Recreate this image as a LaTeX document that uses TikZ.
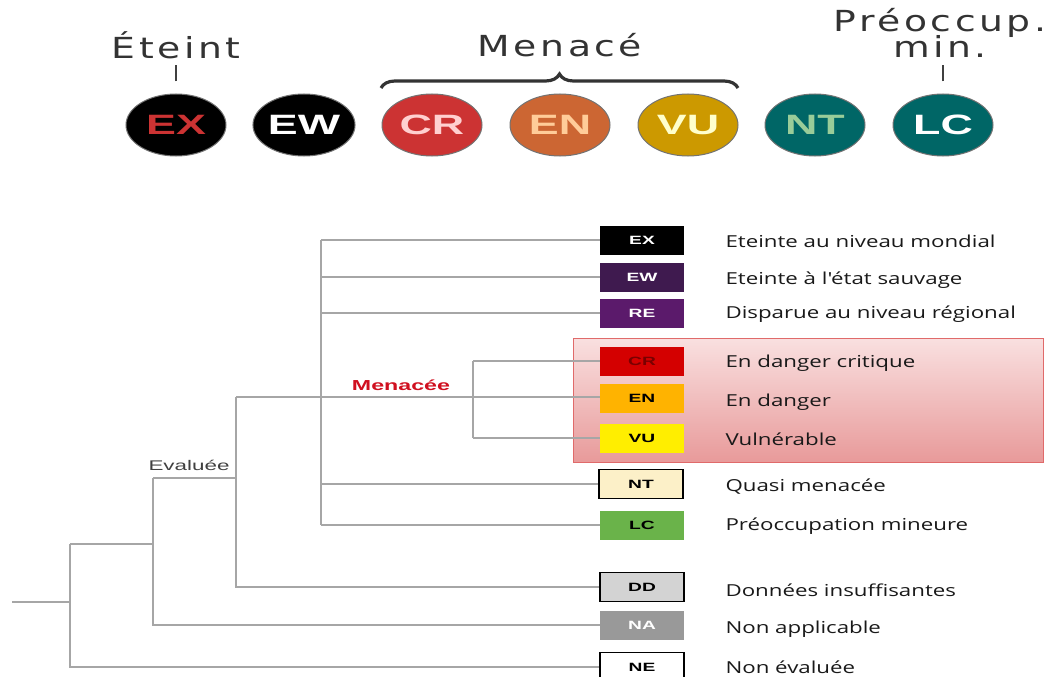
\documentclass[tikz,border=0pt]{standalone}
\usepackage{fontspec}
\usepackage{tikz}
\usetikzlibrary{shapes.geometric, decorations.pathreplacing}

\newfontfamily\headfam[FakeStretch=1.3,LetterSpace=12]{DejaVu Sans}
\newfontfamily\arialx[FakeStretch=1.6]{Liberation Sans}
\newfontfamily\labelfam[FakeStretch=1.35]{Open Sans}

\definecolor{exred}{HTML}{CC3333}
\definecolor{crfill}{HTML}{CC3333}
\definecolor{crtext}{HTML}{FFD0D0}
\definecolor{enfill}{HTML}{CC6633}
\definecolor{entext}{HTML}{FFCC99}
\definecolor{vufill}{HTML}{CC9900}
\definecolor{vutext}{HTML}{FFFFCC}
\definecolor{ntfill}{HTML}{006666}
\definecolor{nttext}{HTML}{99CC99}
\definecolor{ewbox}{HTML}{3F1A4F}
\definecolor{rebox}{HTML}{5B1A6B}
\definecolor{crbox}{HTML}{D40000}
\definecolor{crcode}{HTML}{7A0000}
\definecolor{enbox}{HTML}{FFB300}
\definecolor{vubox}{HTML}{FFEE00}
\definecolor{ntbox}{HTML}{FCF0C8}
\definecolor{lcbox}{HTML}{6AB34A}
\definecolor{ddbox}{HTML}{D3D3D3}
\definecolor{nabox}{HTML}{999999}
\definecolor{zonetop}{HTML}{F9E0E0}
\definecolor{zonebot}{HTML}{E89A9A}
\definecolor{zoneline}{HTML}{E06A6A}
\definecolor{menred}{HTML}{D01020}

\tikzset{
    badge/.style={ellipse, draw=black!55, line width=1pt, minimum width=100pt,
        minimum height=62pt, inner sep=0pt, font=\arialx\bfseries\fontsize{28}{28}\selectfont},
    heading/.style={font=\headfam\fontsize{29}{29}\selectfont, text=black!80, align=center},
    tick/.style={draw=black!75, line width=2pt},
    catbox/.style={rectangle, minimum width=84pt, minimum height=29pt, inner sep=0pt,
        font=\arialx\bfseries\fontsize{12}{12}\selectfont},
    framed/.style={draw=black, line width=1.3pt},
    catlabel/.style={anchor=west, font=\labelfam\fontsize{16.5}{17}\selectfont, text=black!90},
    branch/.style={draw=black!35, line width=1.3pt}
}

\begin{document}
\begin{tikzpicture}[x=1pt, y=-1pt]
    \useasboundingbox (0,0) rectangle (1045,677);

    % top row of badges
    \node[badge, fill=black, text=exred]   (bEX) at (176,125) {EX};
    \node[badge, fill=black, text=white]   (bEW) at (304,125) {EW};
    \node[badge, fill=crfill, text=crtext] (bCR) at (432,125) {CR};
    \node[badge, fill=enfill, text=entext] (bEN) at (560,125) {EN};
    \node[badge, fill=vufill, text=vutext] (bVU) at (688,125) {VU};
    \node[badge, fill=ntfill, text=nttext] (bNT) at (815,125) {NT};
    \node[badge, fill=ntfill, text=white]  (bLC) at (943,125) {LC};

    \node[heading] (hExt) at (176,45) {Éteint};
    \node[heading] (hThr) at (560,45) {Menacé};
    \node[heading] (hLc)  at (940,33) {Préoccup.\\[-3pt]min.};
    \draw[tick] ([yshift=12pt]bEX.north) -- ++(0,-16);
    \draw[tick] ([yshift=12pt]bLC.north) -- ++(0,-16);
    \draw[black!80, line width=3.2pt, decorate, decoration={brace, amplitude=14pt}]
        (381,88) -- (738,88);

    % threatened zone
    \shade[top color=zonetop, bottom color=zonebot] (573,338) rectangle (1043,462);
    \draw[zoneline, line width=1pt] (573,338) rectangle (1043,462);

    % category boxes
    \node[catbox, fill=black, text=white]        (EX) at (642,240) {EX};
    \node[catbox, fill=ewbox, text=white!85]     (EW) at (642,277) {EW};
    \node[catbox, fill=rebox, text=white!85]     (RE) at (642,313) {RE};
    \node[catbox, fill=crbox, text=crcode]       (CR) at (642,361) {CR};
    \node[catbox, fill=enbox, text=black]        (EN) at (642,398) {EN};
    \node[catbox, fill=vubox, text=black]        (VU) at (642,438) {VU};
    \node[catbox, framed, fill=ntbox, text=black] (NT) at (641,484) {NT};
    \node[catbox, fill=lcbox, text=black]        (LC) at (642,525) {LC};
    \node[catbox, framed, fill=ddbox, text=black] (DD) at (642,587) {DD};
    \node[catbox, fill=nabox, text=white!90]     (NA) at (642,625) {NA};
    \node[catbox, framed, fill=white, text=black] (NE) at (642,667) {NE};

    \node[catlabel] (lEX) at (722,241) {Eteinte au niveau mondial};
    \node[catlabel] (lEW) at (722,280) {Eteinte à l'état sauvage};
    \node[catlabel] (lRE) at (722,314) {Disparue au niveau régional};
    \node[catlabel] (lCR) at (722,363) {En danger critique};
    \node[catlabel] (lEN) at (722,402) {En danger};
    \node[catlabel] (lVU) at (722,439) {Vulnérable};
    \node[catlabel] (lNT) at (722,487) {Quasi menacée};
    \node[catlabel] (lLC) at (722,526) {Préoccupation mineure};
    \node[catlabel] (lDD) at (722,590) {Données insuffisantes};
    \node[catlabel] (lNA) at (722,629) {Non applicable};
    \node[catlabel] (lNE) at (722,667) {Non évaluée};

    % tree
    \coordinate (root) at (12,602);
    \coordinate (evl) at (153,478);
    \coordinate (adq) at (236,397);
    \coordinate (cat) at (321,397);
    \coordinate (men) at (473,397);

    \draw[branch] (root) -- (70,602);
    \draw[branch] (70,544) |- (NE.west);
    \draw[branch] (70,544) -- (evl |- 70,544);
    \draw[branch] (evl) |- (NA.west);
    \draw[branch] (evl) -- (adq |- evl);
    \draw[branch] (adq) |- (DD.west);
    \draw[branch] (adq) -- (adq -| EN.west);
    \draw[branch] (cat |- EX.west) -- (cat |- LC.west);
    \foreach \b in {EX, EW, RE, NT, LC}
        \draw[branch] (cat |- \b.west) -- (\b.west);
    \draw[branch] (men |- CR.west) -- (men |- VU.west);
    \foreach \b in {CR, VU}
        \draw[branch] (men |- \b.west) -- (\b.west);

    \node[font=\arialx\fontsize{14}{14}\selectfont, text=black!75] (tEvl) at (189,465) {Evaluée};
    \node[font=\arialx\bfseries\fontsize{14.5}{15}\selectfont, text=menred] (tMen) at (401,385) {Menacée};
\end{tikzpicture}
\end{document}
